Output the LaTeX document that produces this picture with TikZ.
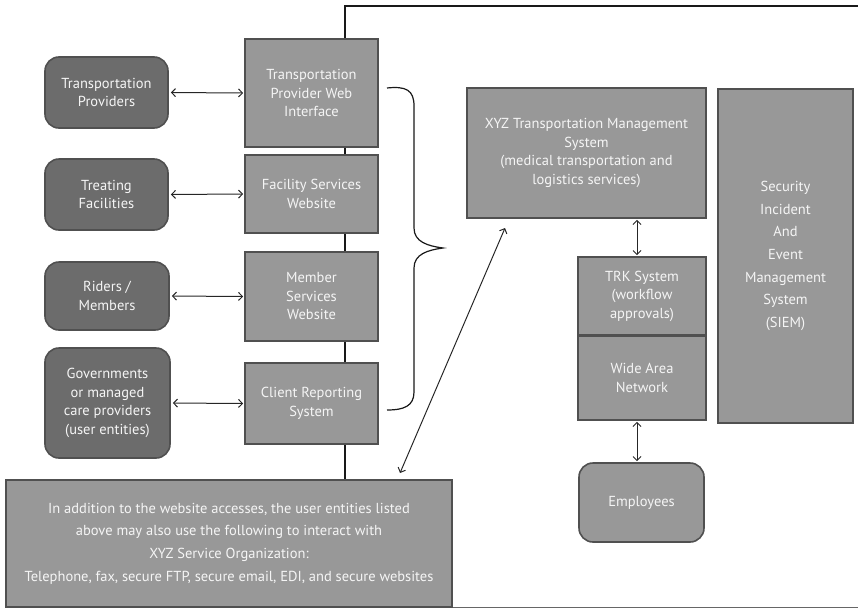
\documentclass[tikz,border=0pt]{standalone}
\usepackage{fontspec}
\setmainfont{PT Sans}
\usetikzlibrary{arrows.meta}
\definecolor{lightfill}{RGB}{152,152,152}
\definecolor{darkfill}{RGB}{108,108,108}
\definecolor{edgec}{RGB}{80,80,80}
\definecolor{txt}{RGB}{245,245,245}
\begin{document}
\begin{tikzpicture}[x=1pt,y=-1pt,
  lbox/.style={draw=edgec, line width=1.6pt, fill=lightfill, text=txt, align=center, inner sep=2pt,
    font=\fontsize{14.5}{18.5}\selectfont},
  dbox/.style={lbox, fill=darkfill, rounded corners=14pt},
  ebox/.style={lbox, rounded corners=14pt},
  arr/.style={{Straight Barb[length=4pt,width=8pt]}-{Straight Barb[length=4pt,width=8pt]}, line width=1pt, black!85},
  frame/.style={line width=2.5pt, black!90}]
\useasboundingbox (0,0) rectangle (858,608);
% frame
\draw[frame] (345,607) -- (345,6) -- (862,6);
\draw[line width=1pt, black!60] (345,607) -- (862,607);
% left rounded boxes
\node[dbox, minimum width=123pt, minimum height=71pt] (tp) at (106.5,92.5) {Transportation\\Providers};
\node[dbox, minimum width=123pt, minimum height=71pt] (tf) at (106.5,194.5) {Treating\\Facilities};
\node[dbox, minimum width=124pt, minimum height=68pt] (rm) at (107,296) {Riders /\\Members};
\node[dbox, minimum width=125pt, minimum height=110pt] (gov) at (107.5,403) {Governments\\or managed\\care providers\\(user entities)};
% middle boxes
\node[lbox, minimum width=133pt, minimum height=108pt] (tpw) at (311.5,93) {Transportation\\Provider Web\\Interface};
\node[lbox, minimum width=133pt, minimum height=78pt] (fsw) at (311.5,194) {Facility Services\\Website};
\node[lbox, minimum width=133pt, minimum height=89pt] (msw) at (311.5,296.5) {Member\\Services\\Website};
\node[lbox, minimum width=133pt, minimum height=81pt] (crs) at (311.5,403.5) {Client Reporting\\System};
% bottom box
\node[lbox, minimum width=446pt, minimum height=127pt, font=\fontsize{14.5}{22.7}\selectfont] (bot) at (229,543.5)
  {In addition to the website accesses, the user entities listed\\above may also use the following to interact with\\XYZ Service Organization:\\Telephone, fax, secure FTP, secure email, EDI, and secure websites};
% right side
\node[lbox, minimum width=239pt, minimum height=130pt] (xyz) at (586.5,153)
  {XYZ Transportation Management\\System\\(medical transportation and\\logistics services)};
\node[lbox, minimum width=135pt, minimum height=334pt, font=\fontsize{14.5}{22.7}\selectfont] (siem) at (785.5,256)
  {Security\\Incident\\And\\Event\\Management\\System\\(SIEM)};
\node[lbox, minimum width=128pt, minimum height=78pt] (trk) at (642,296) {TRK System\\(workflow\\approvals)};
\node[lbox, minimum width=128pt, minimum height=84pt] (wan) at (642,378) {Wide Area\\Network};
\node[ebox, minimum width=125pt, minimum height=79pt] (emp) at (641.5,502.5) {Employees};
% arrows left
\draw[arr, shorten <=2pt, shorten >=1pt] (tp.east) -- (tpw.west);
\draw[arr, shorten <=2pt, shorten >=1pt] (tf.east) -- (fsw.west);
\draw[arr, shorten <=2pt, shorten >=1pt] (rm.east) -- (msw.west);
\draw[arr, shorten <=2pt, shorten >=1pt] (gov.east) -- (crs.west);
% vertical arrows right
\coordinate (ax) at (637,0);
\draw[arr, shorten <=1pt, shorten >=1pt] (xyz.south -| ax) -- (trk.north -| ax);
\draw[arr, shorten <=1pt, shorten >=1pt] (wan.south -| ax) -- (emp.north -| ax);
% brace
\draw[line width=1.2pt, black!90] (387,88) .. controls (406,86) and (414,90) .. (414,106)
  -- (414,228) .. controls (414,242) and (428,246) .. (443,248)
  .. controls (428,250) and (414,254) .. (414,268)
  -- (414,392) .. controls (414,406) and (404,410) .. (387,410);
% diagonal arrow
\coordinate (d1) at (400,473);
\coordinate (d2) at (505,228);
\draw[arr] (d1) -- (d2);
\end{tikzpicture}
\end{document}
